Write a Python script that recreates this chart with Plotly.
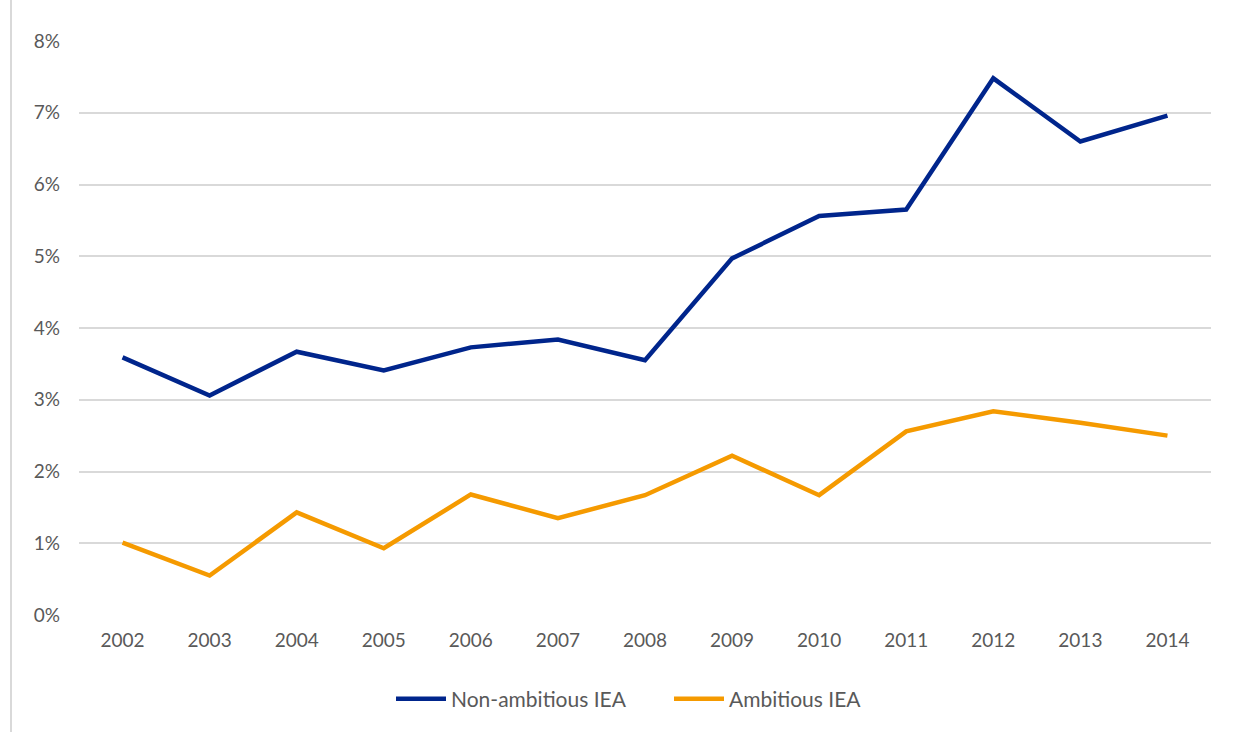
import plotly.graph_objects as go

years = ["2002", "2003", "2004", "2005", "2006", "2007", "2008",
         "2009", "2010", "2011", "2012", "2013", "2014"]
non_ambitious = [0.0359, 0.0306, 0.0367, 0.0341, 0.0373, 0.0384, 0.0355,
                 0.0497, 0.0556, 0.0565, 0.0748, 0.0660, 0.0696]
ambitious = [0.0101, 0.0055, 0.0143, 0.0093, 0.0168, 0.0135, 0.0167,
             0.0222, 0.0167, 0.0256, 0.0284, 0.0268, 0.0250]
y_ticks = [0, 0.01, 0.02, 0.03, 0.04, 0.05, 0.06, 0.07, 0.08]

W, H = 1236, 732
ML, MR, MT, MB = 79, 25, 41, 117

fig = go.Figure()
fig.add_trace(go.Scatter(x=years, y=non_ambitious, mode="lines",
                         name="Non-ambitious IEA",
                         line=dict(color="#00258C", width=4.5)))
fig.add_trace(go.Scatter(x=years, y=ambitious, mode="lines",
                         name="Ambitious IEA",
                         line=dict(color="#F59A00", width=4.5)))

pw = W - ML - MR
ph = H - MT - MB

# thin grey frame line on the left edge
fig.add_shape(type="line", xref="paper", yref="paper",
              x0=(11 - ML) / pw, x1=(11 - ML) / pw,
              y0=-(H - MT - ph) / ph, y1=(H - MT - 11) / ph,
              line=dict(color="#d9d9d9", width=2))

fig.update_layout(
    width=W, height=H,
    margin=dict(l=ML, r=MR, t=MT, b=MB),
    paper_bgcolor="white", plot_bgcolor="white",
    font=dict(family="Lato, Open Sans, sans-serif", size=19, color="#595959"),
    showlegend=True,
    legend=dict(orientation="h", x=(391 - ML) / pw, xanchor="left",
                y=-(699 - MT - ph) / ph, yanchor="middle",
                font=dict(size=21, color="#595959"),
                entrywidth=213, entrywidthmode="pixels",
                itemwidth=50, tracegroupgap=0),
    xaxis=dict(type="category", range=[-0.5, 12.5], showgrid=False,
               showline=False, zeroline=False, ticks="", ticklabelstandoff=12),
    yaxis=dict(range=[0, 0.08], tickvals=y_ticks, tickformat=".0%",
               showgrid=True, gridcolor="#d9d9d9", gridwidth=1.5,
               zeroline=False, showline=False, ticks="", ticklabelstandoff=18),
)

fig.write_html("out.html")
